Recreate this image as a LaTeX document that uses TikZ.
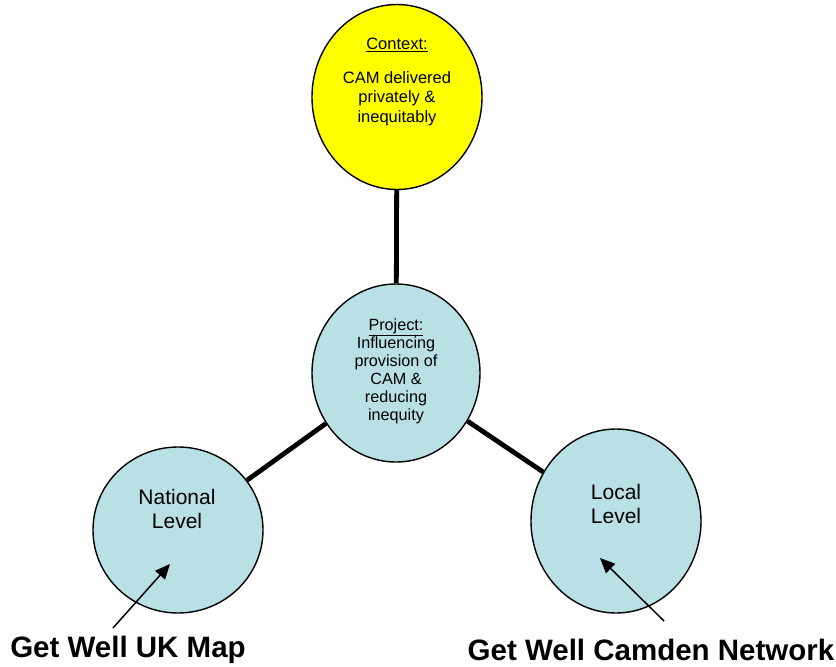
\documentclass[tikz,border=0pt]{standalone}
\usepackage{fontspec}
\setmainfont{Liberation Sans}
\usepackage{xcolor}
\usetikzlibrary{shapes.geometric, arrows.meta, positioning}
\definecolor{ctxyellow}{RGB}{255, 255, 0}
\definecolor{lvlblue}{RGB}{185, 224, 228}
\newcommand{\heading}[1]{\underline{#1}}

\begin{document}
\begin{tikzpicture}[x=1pt, y=-1pt]
        \useasboundingbox (0,0) rectangle (836,667);
        \tikzset{
            bubble/.style={draw, ellipse, line width=1.4pt, inner sep=0pt},
            spoke/.style={line width=4.8pt},
            pointer/.style={-{Triangle[length=15pt, width=13pt]}, line width=1.5pt},
            tag/.style={font=\fontsize{29.5}{32}\selectfont\bfseries}
        }
        % Ellipses
        \node[bubble, fill=ctxyellow, minimum width=170pt, minimum height=185pt] (context) at (397,97) {};
        \node[bubble, fill=lvlblue, minimum width=168pt, minimum height=178pt] (project) at (396,373) {};
        \node[bubble, fill=lvlblue, minimum width=170pt, minimum height=166pt] (national) at (178,530) {};
        \node[bubble, fill=lvlblue, minimum width=170pt, minimum height=184pt] (local) at (616,521) {};
        
        % Texts
        \node[align=center, font=\fontsize{16.5}{19.5}\selectfont] (contexttxt) at (397,82) {\heading{Context:}\\[14pt]CAM delivered\\privately \&\\inequitably};
        \node[align=center, font=\fontsize{16.2}{18}\selectfont] (projecttxt) at (396,371) {\heading{Project:}\\Influencing\\provision of\\CAM \&\\reducing\\inequity};
        \node[align=center, font=\fontsize{21}{24}\selectfont] (nationaltxt) at (177,509) {National\\Level};
        \node[align=center, font=\fontsize{21}{24}\selectfont] (localtxt) at (616,504) {Local\\Level};
        \node[tag] (ukmap) at (128,650) {Get Well UK Map};
        \node[tag] (camden) at (651,650) {Get Well Camden Network};
        
        % Spokes
        \draw[spoke] (context) -- (project);
        \draw[spoke] (project) -- (national);
        \draw[spoke] (project) -- (local);
        
        % Pointers
        \coordinate (uktail) at (113,628);
        \coordinate (uktip) at (170,564);
        \coordinate (camdentail) at (664,621);
        \coordinate (camdentip) at (600,558);
        \draw[pointer] (uktail) -- (uktip);
        \draw[pointer] (camdentail) -- (camdentip);
    \end{tikzpicture}
\end{document}
